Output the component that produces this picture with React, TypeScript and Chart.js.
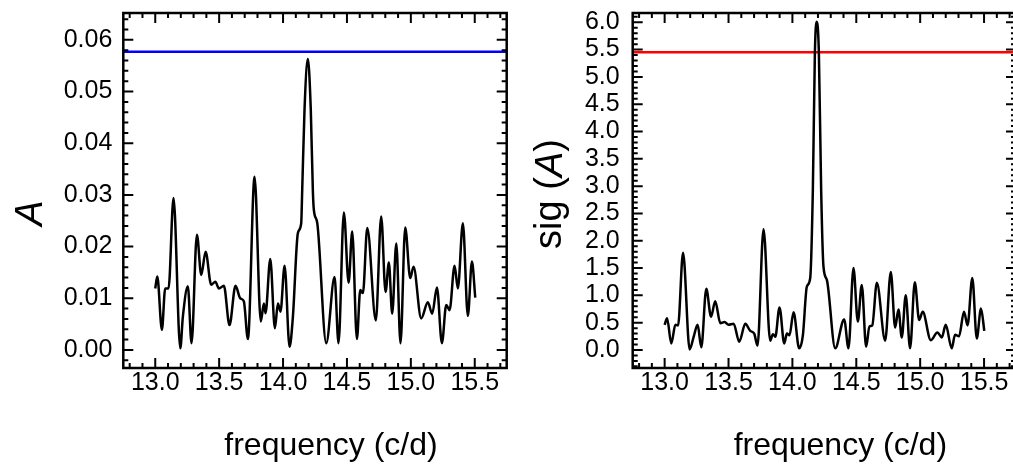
import { useEffect, useRef } from "react";
import { Chart, registerables } from "chart.js";

Chart.register(...registerables);

const FONT = '"Liberation Sans", Arial, Helvetica, sans-serif';

// ---- data ----
const X_MIN = 12.75;
const X_MAX = 15.75;
const freqTicks = [13.0, 13.5, 14.0, 14.5, 15.0, 15.5];
const ampTicks = [0.0, 0.01, 0.02, 0.03, 0.04, 0.05, 0.06];
const sigTicks = [0.0, 0.5, 1.0, 1.5, 2.0, 2.5, 3.0, 3.5, 4.0, 4.5, 5.0, 5.5, 6.0];

const freqA = [13.0, 13.016, 13.052, 13.078, 13.104, 13.143, 13.196, 13.216, 13.255, 13.284, 13.326, 13.36, 13.394, 13.438, 13.47, 13.498, 13.537, 13.581, 13.628, 13.665, 13.693, 13.725, 13.777, 13.826, 13.85, 13.863, 13.9, 13.936, 13.96, 13.98, 14.012, 14.051, 14.077, 14.116, 14.142, 14.15, 14.168, 14.194, 14.217, 14.233, 14.241, 14.268, 14.338, 14.403, 14.434, 14.476, 14.513, 14.541, 14.578, 14.604, 14.625, 14.659, 14.726, 14.768, 14.802, 14.828, 14.854, 14.886, 14.919, 14.956, 14.995, 15.021, 15.081, 15.133, 15.167, 15.204, 15.243, 15.277, 15.303, 15.342, 15.368, 15.407, 15.446, 15.478, 15.504];
const ampA = [0.0119, 0.0142, 0.0039, 0.0119, 0.0119, 0.0294, 0.0003, 0.0064, 0.0123, 0.0013, 0.0223, 0.0145, 0.019, 0.0126, 0.0132, 0.0119, 0.0124, 0.0048, 0.0124, 0.01, 0.0094, 0.0021, 0.0335, 0.0055, 0.009, 0.0071, 0.0176, 0.0042, 0.009, 0.0074, 0.0163, 0.0006, 0.0064, 0.0226, 0.0245, 0.031, 0.0465, 0.0563, 0.0465, 0.031, 0.0271, 0.0245, 0.0013, 0.0141, 0.0013, 0.0266, 0.013, 0.0229, 0.0021, 0.0116, 0.011, 0.0236, 0.0057, 0.0258, 0.0112, 0.0169, 0.007, 0.0206, 0.0013, 0.0237, 0.0139, 0.0161, 0.0061, 0.0092, 0.007, 0.0121, 0.0013, 0.0087, 0.0077, 0.0163, 0.0119, 0.0245, 0.0066, 0.0171, 0.0101];
const ampThreshold = 0.0577;

const freqS = [13.0, 13.019, 13.052, 13.084, 13.105, 13.144, 13.196, 13.227, 13.258, 13.287, 13.326, 13.363, 13.396, 13.436, 13.469, 13.5, 13.54, 13.584, 13.631, 13.67, 13.701, 13.727, 13.774, 13.826, 13.848, 13.866, 13.899, 13.936, 13.957, 13.977, 14.009, 14.053, 14.082, 14.113, 14.139, 14.16, 14.176, 14.19, 14.207, 14.225, 14.243, 14.27, 14.335, 14.405, 14.439, 14.478, 14.512, 14.543, 14.577, 14.603, 14.625, 14.661, 14.726, 14.77, 14.804, 14.83, 14.856, 14.887, 14.921, 14.958, 14.992, 15.02, 15.083, 15.135, 15.169, 15.2, 15.247, 15.273, 15.304, 15.343, 15.371, 15.408, 15.443, 15.476, 15.502];
const sigS = [0.46, 0.58, 0.12, 0.46, 0.45, 1.78, 0.01, 0.24, 0.46, 0.05, 1.12, 0.61, 0.89, 0.49, 0.51, 0.46, 0.48, 0.15, 0.48, 0.35, 0.3, 0.08, 2.21, 0.17, 0.29, 0.24, 0.78, 0.12, 0.3, 0.27, 0.69, 0.03, 0.27, 1.16, 1.31, 2.93, 5.45, 6.01, 5.45, 2.93, 1.53, 1.28, 0.03, 0.56, 0.03, 1.5, 0.52, 1.19, 0.06, 0.43, 0.45, 1.23, 0.17, 1.43, 0.41, 0.74, 0.23, 1.0, 0.03, 1.24, 0.55, 0.7, 0.18, 0.32, 0.23, 0.46, 0.03, 0.28, 0.25, 0.7, 0.45, 1.32, 0.21, 0.76, 0.35];
const sigThreshold = 5.45;

type Part = { t: string; italic: boolean };

interface PanelSpec {
  xs: number[];
  ys: number[];
  yMin: number;
  yMax: number;
  yTicks: number[];
  yMinorStep: number;
  decimals: number;
  threshold: number;
  thresholdColor: string;
  yAxisWidth: number;
  padRight: number;
  yLabelPad: number;
  yTitle: Part[];
  yTitleSize: number;
  yTitlePos: [number, number];
}

function drawParts(ctx: CanvasRenderingContext2D, parts: Part[], size: number, cx: number, cy: number, rotate: boolean, baseline: CanvasTextBaseline) {
  ctx.save();
  ctx.translate(cx, cy);
  if (rotate) ctx.rotate(-Math.PI / 2);
  ctx.textBaseline = baseline;
  ctx.textAlign = "left";
  ctx.fillStyle = "#000";
  const widths = parts.map((p) => {
    ctx.font = `${p.italic ? "italic " : ""}${size}px ${FONT}`;
    return ctx.measureText(p.t).width;
  });
  const total = widths.reduce((a, b) => a + b, 0);
  let x = -total / 2;
  parts.forEach((p, i) => {
    ctx.font = `${p.italic ? "italic " : ""}${size}px ${FONT}`;
    ctx.fillText(p.t, x, 0);
    x += widths[i];
  });
  ctx.restore();
}

function makeFramePlugin(spec: PanelSpec) {
  return {
    id: "frameTicks",
    afterDraw(chart: any) {
      const ctx: CanvasRenderingContext2D = chart.ctx;
      const a = chart.chartArea;
      const xs = chart.scales.x;
      const ys = chart.scales.y;
      ctx.save();
      ctx.strokeStyle = "#000";
      ctx.lineCap = "butt";
      const MAJ = 10;
      const MIN = 5;
      ctx.lineWidth = 2;
      const xStep = 0.1;
      for (let i = Math.ceil(X_MIN / xStep - 1e-6); i <= Math.floor(X_MAX / xStep + 1e-6); i++) {
        const v = i * xStep;
        const isMajor = freqTicks.some((t) => Math.abs(t - v) < 1e-6);
        const len = isMajor ? MAJ : MIN;
        const px = xs.getPixelForValue(v);
        ctx.beginPath();
        ctx.moveTo(px, a.bottom);
        ctx.lineTo(px, a.bottom - len);
        ctx.moveTo(px, a.top);
        ctx.lineTo(px, a.top + len);
        ctx.stroke();
      }
      const st = spec.yMinorStep;
      for (let i = Math.ceil(spec.yMin / st - 1e-6); i <= Math.floor(spec.yMax / st + 1e-6); i++) {
        const v = i * st;
        const isMajor = spec.yTicks.some((t) => Math.abs(t - v) < st / 10);
        const len = isMajor ? MAJ : MIN;
        const py = ys.getPixelForValue(v);
        ctx.beginPath();
        ctx.moveTo(a.left, py);
        ctx.lineTo(a.left + len, py);
        ctx.moveTo(a.right, py);
        ctx.lineTo(a.right - len, py);
        ctx.stroke();
      }
      ctx.lineWidth = 2.5;
      ctx.strokeRect(a.left, a.top, a.right - a.left, a.bottom - a.top);
      ctx.restore();

      const cx = (a.left + a.right) / 2 + 16;
      drawParts(ctx, [{ t: "frequency (c/d)", italic: false }], 32, cx, 455, false, "alphabetic");
      drawParts(ctx, spec.yTitle, spec.yTitleSize, spec.yTitlePos[0], spec.yTitlePos[1], true, "middle");
    },
  };
}

function buildChart(canvas: HTMLCanvasElement, spec: PanelSpec) {
  const tickFont = { family: FONT, size: 25, lineHeight: 1 };
  return new Chart(canvas, {
    type: "line",
    data: {
      datasets: [
        {
          data: spec.xs.map((x, i) => ({ x, y: spec.ys[i] })),
          borderColor: "#000",
          borderWidth: 2.5,
          pointRadius: 0,
          cubicInterpolationMode: "monotone",
          fill: false,
        },
        {
          data: [
            { x: X_MIN, y: spec.threshold },
            { x: X_MAX, y: spec.threshold },
          ],
          borderColor: spec.thresholdColor,
          borderWidth: 2.5,
          pointRadius: 0,
          tension: 0,
          fill: false,
        },
      ],
    },
    options: {
      animation: false,
      responsive: false,
      events: [],
      layout: { padding: { left: 0, top: 13, right: spec.padRight, bottom: 0 } },
      plugins: { legend: { display: false }, tooltip: { enabled: false }, title: { display: false } },
      scales: {
        x: {
          type: "linear",
          min: X_MIN,
          max: X_MAX,
          afterBuildTicks: (s: any) => {
            s.ticks = freqTicks.map((v) => ({ value: v }));
          },
          afterFit: (s: any) => {
            s.height = 96;
            s.paddingLeft = 0;
            s.paddingRight = 0;
            s.paddingTop = 0;
            s.paddingBottom = 0;
          },
          grid: { display: false, drawTicks: false },
          border: { display: false },
          ticks: {
            autoSkip: false,
            maxRotation: 0,
            padding: 3,
            color: "#000",
            font: tickFont,
            callback: (v: any) => Number(v).toFixed(1),
          },
        },
        y: {
          type: "linear",
          min: spec.yMin,
          max: spec.yMax,
          afterBuildTicks: (s: any) => {
            s.ticks = spec.yTicks.map((v) => ({ value: v }));
          },
          afterFit: (s: any) => {
            s.width = spec.yAxisWidth;
            s.paddingLeft = 0;
            s.paddingRight = 0;
            s.paddingTop = 0;
            s.paddingBottom = 0;
          },
          grid: { display: false, drawTicks: false },
          border: { display: false },
          ticks: {
            autoSkip: false,
            padding: spec.yLabelPad,
            color: "#000",
            font: tickFont,
            callback: (v: any) => Number(v).toFixed(spec.decimals),
          },
        },
      },
    } as any,
    plugins: [makeFramePlugin(spec)],
  } as any);
}

const leftSpec: PanelSpec = {
  xs: freqA,
  ys: ampA,
  yMin: -0.0035,
  yMax: 0.0652,
  yTicks: ampTicks,
  yMinorStep: 0.002,
  decimals: 2,
  threshold: ampThreshold,
  thresholdColor: "#0000ff",
  yAxisWidth: 123.3,
  padRight: 13.3,
  yLabelPad: 11,
  yTitle: [{ t: "A", italic: true }],
  yTitleSize: 38,
  yTitlePos: [31, 213],
};

const rightSpec: PanelSpec = {
  xs: freqS,
  ys: sigS,
  yMin: -0.33,
  yMax: 6.17,
  yTicks: sigTicks,
  yMinorStep: 0.1,
  decimals: 1,
  threshold: sigThreshold,
  thresholdColor: "#ff0000",
  yAxisWidth: 122.7,
  padRight: 14,
  yLabelPad: 13,
  yTitle: [
    { t: "sig (", italic: false },
    { t: "A", italic: true },
    { t: ")", italic: false },
  ],
  yTitleSize: 38,
  yTitlePos: [41, 194],
};

export default function App() {
  const leftRef = useRef<HTMLCanvasElement | null>(null);
  const rightRef = useRef<HTMLCanvasElement | null>(null);

  useEffect(() => {
    const c1 = buildChart(leftRef.current!, leftSpec);
    const c2 = buildChart(rightRef.current!, rightSpec);
    return () => {
      c1.destroy();
      c2.destroy();
    };
  }, []);

  return (
    <div
      style={{
        position: "fixed",
        left: 0,
        top: 0,
        width: 1013,
        height: 464,
        overflow: "hidden",
        background: "#fff",
      }}
    >
      <canvas ref={leftRef} width={520} height={464} style={{ position: "absolute", left: 0, top: 0 }} />
      <canvas ref={rightRef} width={520} height={464} style={{ position: "absolute", left: 510, top: 0 }} />
    </div>
  );
}
